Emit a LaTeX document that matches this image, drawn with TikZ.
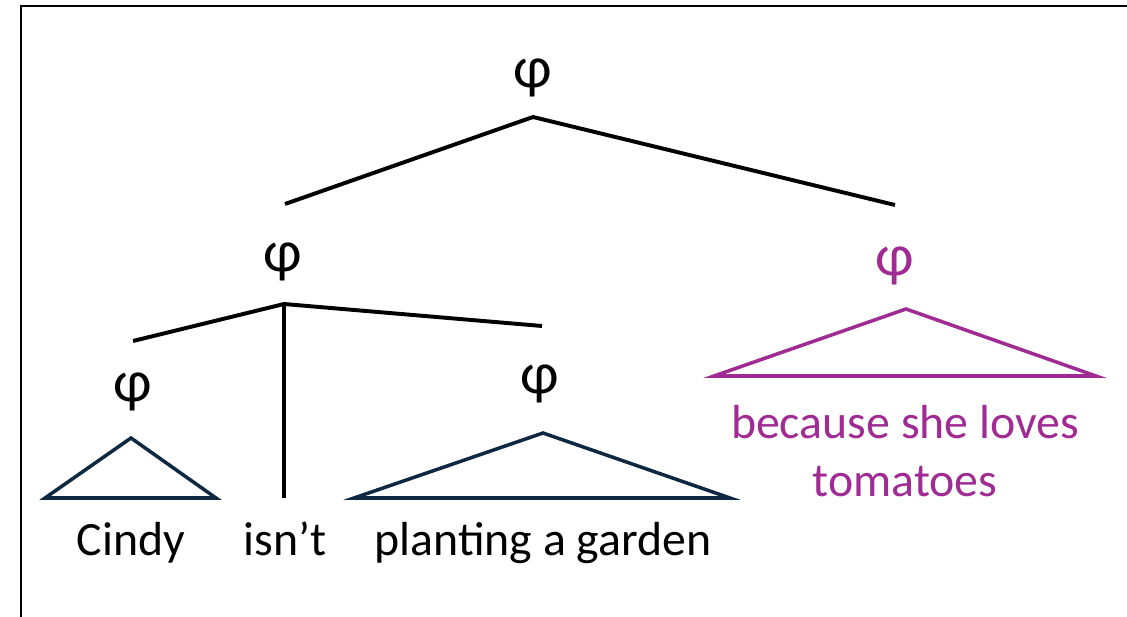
\documentclass[tikz,border=0pt]{standalone}
\usepackage{fontspec}
\setmainfont{Carlito}
\definecolor{tnavy}{HTML}{0E2841}
\definecolor{tpurple}{HTML}{A02B93}

\begin{document}
\begin{tikzpicture}[font=\fontsize{34}{41}\selectfont,
  branch/.style={line width=2.8pt},
  tri/.style={line width=2.5pt, tnavy},
  phi/.style={inner sep=0pt, font=\fontsize{42}{48}\selectfont},
  word/.style={inner sep=0pt, anchor=base}]
\useasboundingbox (0,0) rectangle (28.175,15.4);
% frame, only its top and left edges fall inside the page
\draw[line width=1.6pt] (0.525,-0.3) -- (0.525,15.25) -- (28.5,15.25);
%% top level
\node[phi] (root) at (13.325,13.46) {φ};
\coordinate (rootj) at (13.325,12.475);
\coordinate (rootl) at (7.125,10.3);
\coordinate (rootr) at (22.375,10.275);
\draw[branch] (rootl) -- (rootj) -- (rootr);
%% left clause
\node[phi] (clause) at (7.075,8.85) {φ};
\coordinate (cj) at (7.1,7.8);
\coordinate (cl) at (3.325,6.875);
\coordinate (cr) at (13.55,7.25);
\coordinate (cv) at (7.1,2.95);
\draw[branch] (cl) -- (cj) -- (cr);
\draw[branch] (cj) -- (cv);
% subject
\node[phi] (subj) at (3.325,5.6) {φ};
\coordinate (subjtop) at (3.275,4.45);
\coordinate (subjl) at (1.125,2.95);
\coordinate (subjr) at (5.4,2.95);
\draw[tri] (subjl) -- (subjtop) -- (subjr) -- cycle;
\node[word] (cindy) at (3.275,1.525) {Cindy};
\node[word] (neg) at (7.125,1.525) {isn’t};
% predicate
\node[phi] (pred) at (13.5,5.8) {φ};
\coordinate (predtop) at (13.575,4.575);
\coordinate (predl) at (8.85,2.95);
\coordinate (predr) at (18.25,2.95);
\draw[tri] (predl) -- (predtop) -- (predr) -- cycle;
\node[word] (garden) at (13.575,1.525) {planting a garden};
%% adjunct clause
\node[phi, tpurple] (adj) at (22.375,8.75) {φ};
\coordinate (adjtop) at (22.65,7.675);
\coordinate (adjl) at (17.85,6.0);
\coordinate (adjr) at (27.4,6.0);
\draw[tri, tpurple] (adjl) -- (adjtop) -- (adjr) -- cycle;
\node[inner sep=0pt, anchor=north, align=center, tpurple] (because) at (22.625,5.275)
  {because she loves\\ tomatoes};
\end{tikzpicture}
\end{document}
